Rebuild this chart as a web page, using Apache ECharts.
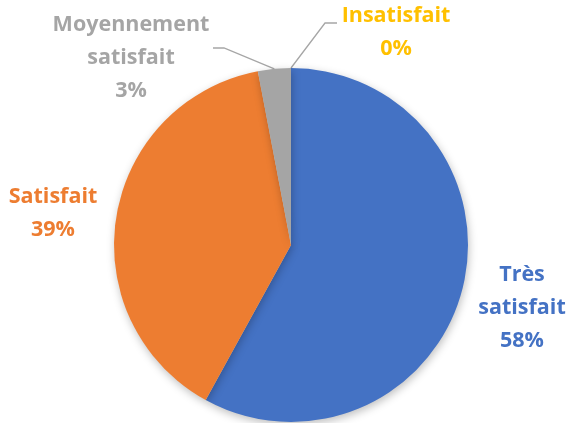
<!DOCTYPE html>
<html><head><meta charset="utf-8">
<script src="https://cdn.jsdelivr.net/npm/echarts@6/dist/echarts.min.js"></script>
<style>html,body{margin:0;padding:0;background:#fff}#c{width:572px;height:423px}</style>
</head><body><div id="c"></div>
<script>
const categories = ['Très\nsatisfait', 'Satisfait', 'Moyennement\nsatisfait', 'Insatisfait'];
const values = [58, 39, 3, 0];
const colors = ['#4472C4', '#ED7D31', '#A5A5A5', '#FFC000'];

// label anchor placement (center of text block), per slice index
const labelAnchors = [
  {x: 522, y: 308},
  {x: 53, y: 213},
  {x: 131, y: 58},
  {x: 396, y: 32}
];

const chart = echarts.init(document.getElementById('c'), null, {renderer: 'canvas'});
chart.setOption({
  animation: false,
  series: [{
    type: 'pie',
    center: [291, 245],
    radius: 177,
    startAngle: 90,
    clockwise: true,
    avoidLabelOverlap: false,
    minShowLabelAngle: -1,
    data: categories.map((c, i) => ({
      name: c, value: values[i],
      itemStyle: {color: colors[i]},
      label: {color: colors[i]}
    })),
    itemStyle: {
      shadowBlur: 8, shadowColor: 'rgba(0,0,0,0.25)', shadowOffsetY: 3, shadowOffsetX: 1
    },
    label: {
      show: true,
      position: 'outside',
      fontFamily: 'Open Sans',
      fontWeight: 'bold',
      fontSize: 21.5,
      lineHeight: 33,
      align: 'center',
      formatter: p => p.name + '\n' + Math.round(p.percent) + '%'
    },
    labelLine: {
      show: true,
      lineStyle: {color: '#A6A6A6', width: 1.3}
    },
    labelLayout: function (params) {
      const a = labelAnchors[params.dataIndex];
      const res = {x: a.x, y: a.y, align: 'center', verticalAlign: 'middle'};
      const start = params.labelLinePoints ? params.labelLinePoints[0] : null;
      if (params.dataIndex === 2 && start) {
        res.labelLinePoints = [start, [224, 48], [213, 48]];
      } else if (params.dataIndex === 3 && start) {
        res.labelLinePoints = [start, [325, 23], [337, 23]];
      } else {
        res.labelLinePoints = [[0,0],[0,0],[0,0]];
      }
      return res;
    }
  }]
});
</script></body></html>
